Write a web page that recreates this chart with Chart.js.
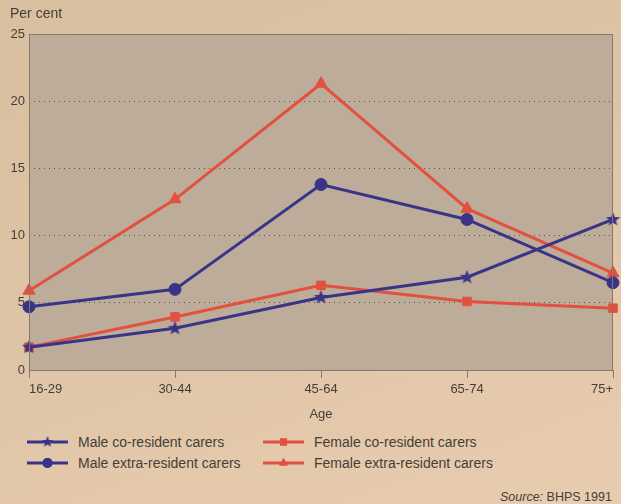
<!DOCTYPE html>
<html>
<head>
<meta charset="utf-8">
<script src="https://cdn.jsdelivr.net/npm/chart.js@4.4.0/dist/chart.umd.min.js"></script>
<style>
  html, body { margin: 0; padding: 0; }
  body {
    width: 621px; height: 504px; overflow: hidden; position: relative;
    background: linear-gradient(160deg, #d8bf9f 0%, #dfc5a7 50%, #e8ccaf 100%);
    font-family: "Liberation Sans", Arial, sans-serif; color: #463e36;
  }
  #wrap { position: absolute; left: 0; top: 0; width: 621px; height: 430px; }
  #ylabel { position: absolute; left: 10px; top: 5px; font-size: 14px; }
  #legend { position: absolute; left: 27px; top: 433px; width: 560px; }
  .item { position: absolute; font-size: 14px; line-height: 18px; white-space: nowrap; }
  .item canvas { vertical-align: middle; margin-right: 10px; position: relative; top: -1px; }
  #source { position: absolute; left: 500px; top: 490px; font-size: 12.5px; }
</style>
</head>
<body>
<div id="wrap"><canvas id="chart"></canvas></div>
<div id="ylabel">Per cent</div>
<div id="legend"></div>
<div id="source"><i>Source:</i> BHPS 1991</div>
<script>
// data
const ageGroups = ['16-29', '30-44', '45-64', '65-74', '75+'];
const maleCoResident = [1.7, 3.1, 5.4, 6.9, 11.2];
const maleExtraResident = [4.7, 6.0, 13.8, 11.2, 6.5];
const femaleCoResident = [1.7, 3.95, 6.3, 5.1, 4.6];
const femaleExtraResident = [5.9, 12.7, 21.3, 12.0, 7.2];
const yTicks = [0, 5, 10, 15, 20, 25];

const blue = '#3a3489';
const red = '#e2513f';

// filled five point star, Chart.js 'star' is only a cross of lines
function makeStar(color, size) {
    const c = document.createElement('canvas');
    c.width = size; c.height = size;
    const g = c.getContext('2d');
    const cx = size / 2, cy = size / 2, ro = size / 2, ri = ro * 0.42;
    g.beginPath();
    for (let i = 0; i < 10; i++) {
        const r = i % 2 === 0 ? ro : ri;
        const a = -Math.PI / 2 + i * Math.PI / 5;
        g.lineTo(cx + r * Math.cos(a), cy + r * Math.sin(a));
    }
    g.closePath();
    g.fillStyle = color;
    g.fill();
    return c;
}
const star = makeStar(blue, 15);
const smallStar = makeStar(blue, 12);

function series(label, data, color, style, radius) {
    return {
        label: label,
        data: data,
        borderColor: color,
        backgroundColor: color,
        borderWidth: 3,
        pointStyle: style,
        pointRadius: radius,
        pointBorderWidth: 1,
        tension: 0
    };
}

const datasets = [
    series('Male co-resident carers', maleCoResident, blue, star, 7),
    series('Male extra-resident carers', maleExtraResident, blue, 'circle', 6),
    series('Female co-resident carers', femaleCoResident, red, 'rect', 6),
    series('Female extra-resident carers', femaleExtraResident, red, 'triangle', 7)
];

// grey plot area with a thin frame
const plotBackground = {
    id: 'plotBackground',
    beforeDraw(chart) {
        const a = chart.chartArea, ctx = chart.ctx;
        ctx.save();
        ctx.fillStyle = '#bdac99';
        ctx.fillRect(a.left, a.top, a.right - a.left, a.bottom - a.top);
        ctx.restore();
    },
    afterDatasetsDraw(chart) {
        const a = chart.chartArea, ctx = chart.ctx;
        ctx.save();
        ctx.strokeStyle = '#85796b';
        ctx.lineWidth = 1;
        ctx.strokeRect(a.left + 0.5, a.top + 0.5, a.right - a.left - 1, a.bottom - a.top);
        ctx.restore();
    }
};

const chart = new Chart(document.getElementById('chart'), {
    type: 'line',
    data: { labels: ageGroups, datasets: datasets },
    options: {
        responsive: true,
        maintainAspectRatio: false,
        animation: false,
        layout: { padding: { top: 34, right: 3, left: 0, bottom: 0 } },
        plugins: {
            legend: { display: false },
            tooltip: { enabled: false }
        },
        scales: {
            x: {
                offset: false,
                afterFit: function (scale) { scale.height = 60; },
                grid: {
                    drawOnChartArea: false,
                    drawTicks: true,
                    tickLength: 8,
                    color: '#85796b'
                },
                border: { color: '#85796b' },
                ticks: {
                    align: 'inner',
                    padding: 4,
                    color: '#463e36',
                    font: { family: 'Liberation Sans', size: 13 }
                },
                title: {
                    display: true,
                    text: 'Age',
                    color: '#463e36',
                    padding: { top: 0, bottom: 8 },
                    font: { family: 'Liberation Sans', size: 13 }
                }
            },
            y: {
                min: 0,
                max: 25,
                afterFit: function (scale) { scale.width = 29; },
                afterBuildTicks: function (scale) {
                    scale.ticks = yTicks.map(v => ({ value: v }));
                },
                grid: {
                    drawTicks: false,
                    color: function (c) {
                        return (c.tick.value === 0 || c.tick.value === 25) ? 'rgba(0,0,0,0)' : '#5e5347';
                    },
                    lineWidth: 1
                },
                // in v4 border.dash styles the grid lines: dotted
                border: { display: false, dash: [1, 4] },
                ticks: {
                    padding: 4,
                    color: '#463e36',
                    font: { family: 'Liberation Sans', size: 13 }
                }
            }
        }
    },
    plugins: [plotBackground]
});

// legend in two columns, drawn from the dataset styles
const legend = document.getElementById('legend');
const legendPos = [[0, 0], [0, 21], [236, 0], [236, 21]];
datasets.forEach(function (ds, i) {
    const item = document.createElement('div');
    item.className = 'item';
    item.style.left = legendPos[i][0] + 'px';
    item.style.top = legendPos[i][1] + 'px';
    const c = document.createElement('canvas');
    c.width = 41; c.height = 14;
    const g = c.getContext('2d');
    g.strokeStyle = ds.borderColor;
    g.lineWidth = 3;
    g.beginPath(); g.moveTo(0, 7); g.lineTo(41, 7); g.stroke();
    g.fillStyle = ds.backgroundColor;
    if (i === 0) {
        g.drawImage(smallStar, 14.5, 1);
    } else {
        Chart.helpers.drawPoint(g, {
            pointStyle: ds.pointStyle,
            radius: 5,
            rotation: 0,
            borderWidth: 0
        }, 20.5, 7);
        g.fill();
    }
    item.appendChild(c);
    item.appendChild(document.createTextNode(ds.label));
    legend.appendChild(item);
});
</script>
</body>
</html>
